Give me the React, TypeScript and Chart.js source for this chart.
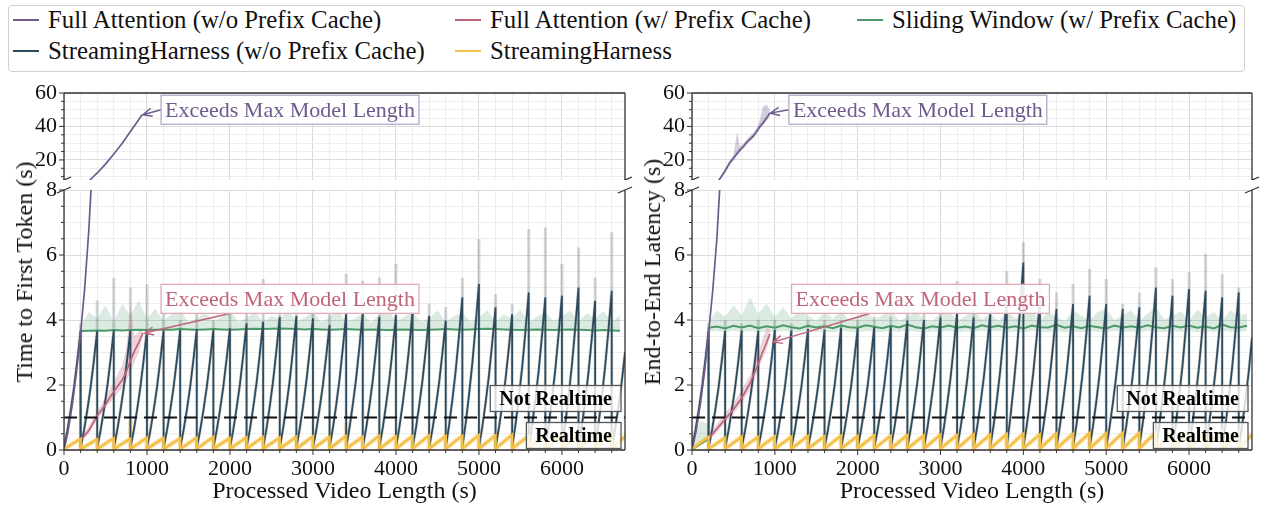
import React, { useEffect, useRef } from 'react';
import { Chart, registerables } from 'chart.js';

Chart.register(...registerables);

const FONT = '"Liberation Serif", "DejaVu Serif", "Noto Serif", serif';

// ---------- axes ----------
const X_MAX = 6760;
const X_TICK_LABELS = [0, 1000, 2000, 3000, 4000, 5000, 6000];
const X_MINOR_STEP = 200;
const Y_LOW_MIN = 0;
const Y_LOW_MAX = 8;
const Y_LOW_TICK_LABELS = [0, 2, 4, 6, 8];
const Y_LOW_MINOR_STEP = 0.5;
const Y_HIGH_MIN = 8;
const Y_HIGH_MAX = 60;
const Y_HIGH_TICK_LABELS = [20, 40, 60];
const Y_HIGH_MINOR_STEP = 5;
const REALTIME_THRESHOLD = 1;

const X_TITLE = 'Processed Video Length (s)';
const Y_TITLE_LEFT = 'Time to First Token (s)';
const Y_TITLE_RIGHT = 'End-to-End Latency (s)';
const ANNOT_TEXT = 'Exceeds Max Model Length';
const NOT_RT_TEXT = 'Not Realtime';
const RT_TEXT = 'Realtime';

const LEGEND_LABELS = [
  'Full Attention (w/o Prefix Cache)',
  'Full Attention (w/ Prefix Cache)',
  'Sliding Window (w/ Prefix Cache)',
  'StreamingHarness (w/o Prefix Cache)',
  'StreamingHarness',
];

// ---------- colours ----------
const C_PURPLE = '#6e5a8c';
const C_PINK = '#c0647a';
const C_DARK = '#2f4a5c';
const C_YELLOW = '#f3bf45';
const C_GREEN = '#4c9a6a';

// ---------- series ----------
const CYCLE = 200;
const SAW_PHASE = [0, 0.2, 0.4, 0.6, 0.8, 1];
const SAW_SHAPE = [0.02, 0.16, 0.33, 0.52, 0.75, 1];
const YEL_PHASE = [0, 0.5, 1];
const YEL_SHAPE = [0.08, 0.55, 1];

const SHNC_L_PEAKS = [3.67, 3.67, 3.68, 3.68, 3.7, 3.68, 3.7, 3.72, 3.7, 3.75, 3.9, 3.95, 4.1, 4.12, 4.05, 3.85, 4.18, 4.23, 4.1, 4.15, 4.25, 4.13, 3.98, 4.7, 5.11, 4.39, 4.18, 4.85, 4.7, 4.75, 5.0, 4.59, 4.9, 4.0];
const SHNC_L_SPIKES = [3.9, 4.6, 5.3, 5.0, 5.1, 4.3, 4.0, 4.2, 4.0, 4.4, 4.3, 5.26, 4.5, 4.6, 4.3, 4.2, 5.42, 5.21, 5.31, 5.72, 4.8, 4.5, 4.4, 5.3, 6.49, 4.8, 4.5, 6.8, 6.85, 5.72, 6.23, 5.31, 6.7, 4.0];
const SHNC_R_PEAKS = [3.67, 3.67, 3.68, 3.67, 3.7, 3.68, 3.72, 3.7, 3.77, 3.75, 3.78, 3.8, 3.98, 4.0, 4.08, 4.23, 4.08, 4.18, 4.65, 5.77, 4.59, 4.34, 4.49, 4.75, 4.49, 4.34, 4.39, 5.0, 4.75, 4.95, 4.9, 4.7, 4.85, 4.6];
const SHNC_R_SPIKES = [3.9, 4.0, 3.9, 4.0, 4.0, 3.9, 4.0, 4.0, 4.0, 4.0, 4.1, 4.1, 4.3, 4.3, 4.4, 5.2, 4.6, 5.0, 5.5, 6.39, 5.26, 4.85, 5.11, 5.57, 5.26, 4.49, 4.85, 5.62, 5.26, 5.47, 6.03, 5.41, 5.0, 4.6];

const SH_L_PEAKS = [0.34, 0.33, 0.36, 0.35, 0.38, 0.37, 0.36, 0.38, 0.4, 0.37, 0.39, 0.4, 0.38, 0.41, 0.42, 0.4, 0.43, 0.41, 0.44, 0.42, 0.43, 0.45, 0.43, 0.44, 0.46, 0.45, 0.47, 0.44, 0.48, 0.46, 0.47, 0.49, 0.48, 0.5];
const SH_L_SPIKES = [0.38, 0.37, 0.4, 0.9, 0.42, 0.41, 0.4, 0.42, 0.44, 0.41, 0.43, 0.44, 0.42, 0.45, 0.46, 0.44, 0.85, 0.45, 0.48, 0.46, 0.47, 0.49, 0.47, 0.48, 0.5, 0.49, 0.51, 0.48, 0.52, 0.5, 0.51, 0.53, 0.52, 0.54];
const SH_R_PEAKS = [0.4, 0.38, 0.41, 0.4, 0.42, 0.41, 0.43, 0.42, 0.44, 0.43, 0.45, 0.44, 0.46, 0.45, 0.47, 0.46, 0.48, 0.47, 0.49, 0.5, 0.48, 0.51, 0.5, 0.52, 0.51, 0.53, 0.52, 0.54, 0.53, 0.55, 0.54, 0.56, 0.55, 0.57];
const SH_R_SPIKES = [0.45, 0.43, 0.46, 0.45, 0.47, 0.46, 0.48, 0.47, 0.49, 0.48, 0.5, 0.49, 0.51, 0.5, 0.52, 0.51, 0.53, 0.52, 0.54, 0.55, 0.53, 0.56, 0.55, 0.57, 0.56, 0.58, 0.57, 0.59, 0.58, 0.6, 0.59, 0.61, 0.6, 0.62];

const GREEN_START = 200;
const GREEN_STEP = 100;
const GREEN_L_PRE_T = [200];
const GREEN_L_PRE = [0.3];
const GREEN_L_PRE_HI = [0.3];
const GREEN_L = [
  3.66, 3.67, 3.68, 3.67, 3.69, 3.68, 3.69, 3.7, 3.69, 3.7,
  3.71, 3.7, 3.72, 3.71, 3.7, 3.71, 3.72, 3.71, 3.7, 3.71,
  3.72, 3.73, 3.72, 3.73, 3.74, 3.73, 3.72, 3.71, 3.72, 3.71,
  3.7, 3.71, 3.72, 3.71, 3.7, 3.71, 3.7, 3.69, 3.7, 3.71,
  3.7, 3.69, 3.7, 3.71, 3.72, 3.71, 3.7, 3.71, 3.72, 3.73,
  3.72, 3.71, 3.7, 3.69, 3.7, 3.71, 3.7, 3.69, 3.7, 3.71,
  3.7, 3.69, 3.68, 3.69, 3.68, 3.67,
];
const GREEN_L_HI = [
  3.8, 4.25, 4.05, 4.45, 3.95, 4.5, 4.15, 4.6, 4.05, 4.35,
  3.98, 4.2, 4.32, 3.92, 4.05, 4.22, 3.95, 4.1, 4.3, 3.95,
  4.05, 4.28, 3.92, 4.12, 4.02, 4.35, 3.95, 4.08, 4.25, 3.93,
  4.1, 4.3, 3.95, 4.05, 4.2, 3.92, 4.15, 4.32, 3.97, 4.1,
  4.25, 3.95, 4.05, 4.3, 3.93, 4.12, 4.22, 3.95, 4.08, 4.3,
  3.95, 4.18, 4.05, 4.32, 3.92, 4.1, 4.25, 3.96, 4.12, 4.3,
  3.95, 4.2, 4.05, 4.28, 3.94, 4.15,
];
const GREEN_R_PRE_T = [0, 100, 200];
const GREEN_R_PRE = [0.02, 0.18, 0.35];
const GREEN_R_PRE_HI = [0.3, 0.9, 0.8];
const GREEN_R = [
  3.76, 3.8, 3.74, 3.82, 3.77, 3.83, 3.75, 3.81, 3.76, 3.84,
  3.78, 3.74, 3.82, 3.77, 3.81, 3.75, 3.83, 3.78, 3.76, 3.84,
  3.79, 3.75, 3.82, 3.77, 3.86, 3.78, 3.74, 3.81, 3.77, 3.83,
  3.76, 3.8, 3.75, 3.84, 3.78, 3.82, 3.76, 3.81, 3.74, 3.83,
  3.78, 3.77, 3.85, 3.76, 3.81, 3.75, 3.82, 3.78, 3.74, 3.83,
  3.77, 3.81, 3.76, 3.84, 3.78, 3.75, 3.82, 3.77, 3.83, 3.76,
  3.8, 3.74, 3.86, 3.78, 3.77, 3.82,
];
const GREEN_R_HI = [
  3.95, 4.3, 4.1, 4.45, 4.15, 4.7, 4.2, 4.5, 4.1, 4.4,
  4.05, 4.3, 4.15, 3.98, 4.25, 4.05, 4.3, 3.98, 4.12, 4.28,
  4.0, 4.15, 4.3, 3.98, 4.1, 4.25, 4.02, 3.97, 4.22, 4.3,
  3.98, 4.12, 4.3, 4.02, 4.2, 3.97, 4.28, 4.05, 4.15, 4.3,
  3.98, 4.25, 4.1, 3.97, 4.3, 4.12, 4.0, 4.25, 4.35, 4.0,
  4.15, 4.3, 3.98, 4.2, 4.38, 4.02, 4.15, 4.28, 3.98, 4.32,
  4.1, 4.25, 3.98, 4.3, 4.15, 4.2,
];
const GREEN_R_LO = [
  3.64, 3.66, 3.62, 3.67, 3.63, 3.66, 3.62, 3.65, 3.63, 3.67,
  3.64, 3.62, 3.66, 3.63, 3.65, 3.62, 3.67, 3.64, 3.62, 3.66,
  3.65, 3.62, 3.66, 3.63, 3.68, 3.64, 3.62, 3.65, 3.63, 3.66,
  3.62, 3.65, 3.63, 3.67, 3.64, 3.66, 3.62, 3.65, 3.62, 3.66,
  3.64, 3.63, 3.67, 3.62, 3.65, 3.62, 3.66, 3.64, 3.62, 3.66,
  3.63, 3.65, 3.62, 3.67, 3.64, 3.62, 3.66, 3.63, 3.66, 3.62,
  3.65, 3.62, 3.68, 3.64, 3.63, 3.66,
];

const PINK_L_T = [200, 250, 300, 400, 500, 600, 700, 750, 800, 850, 900, 950];
const PINK_L = [0.3, 0.45, 0.6, 1.05, 1.4, 1.8, 2.15, 2.4, 2.75, 3.05, 3.3, 3.6];
const PINK_L_HI = [0.35, 0.55, 0.75, 1.2, 1.6, 2.1, 2.6, 3.1, 4.45, 3.5, 3.65, 3.75];
const PINK_L_LO = [0.28, 0.4, 0.5, 0.95, 1.3, 1.6, 1.9, 2.1, 2.4, 2.7, 3.0, 3.5];
const PINK_R_T = [200, 300, 400, 500, 600, 700, 750, 800, 850, 900, 940];
const PINK_R = [0.35, 0.65, 0.95, 1.25, 1.6, 2.05, 2.35, 2.65, 3.0, 3.3, 3.57];
const PINK_R_HI = [0.45, 0.8, 1.15, 1.45, 1.85, 2.3, 2.65, 3.0, 3.4, 3.75, 3.7];
const PINK_R_LO = [0.3, 0.55, 0.85, 1.1, 1.45, 1.85, 2.15, 2.45, 2.8, 3.1, 3.45];

const PURPLE_LB_T = [0, 50, 100, 150, 200, 250, 300, 340];
const PURPLE_LB = [0, 0.6, 1.4, 2.4, 3.6, 5.0, 6.8, 8.7];
const PURPLE_LT_T = [300, 350, 400, 500, 600, 700, 800, 900, 941];
const PURPLE_LT = [7.2, 9.8, 12.2, 17.5, 23.5, 29.8, 37.0, 44.0, 47.0];
const PURPLE_RB_T = [0, 50, 100, 150, 200, 250, 300, 345];
const PURPLE_RB = [0, 0.6, 1.4, 2.4, 3.6, 4.9, 6.5, 8.5];
const PURPLE_RT_T = [320, 360, 400, 458, 500, 546, 578, 620, 660, 700, 735, 780, 820, 855, 900, 940];
const PURPLE_RT = [7.5, 10.5, 13.5, 18.5, 21, 24, 26, 28, 30.5, 32.5, 34, 37, 40, 42, 45, 48];
const PURPLE_RT_HI = [8, 11.5, 15, 20, 23, 36.9, 28, 30, 32, 34.5, 36, 39, 44, 52, 53, 50];
const PURPLE_RT_LO = [7, 9.5, 12.5, 17, 19.5, 22.5, 24.5, 26.5, 29, 31, 32.5, 35.5, 38.5, 40.5, 43.5, 46];

const ANNOT_L_TOP = { textX: 1218, textY: 50, toX: 950, toY: 47 };
const ANNOT_R_TOP = { textX: 1218, textY: 50, toX: 945, toY: 48 };
const ANNOT_L_BOT = { textX: 1218, textY: 4.65, fromX: 2000, fromY: 4.2, toX: 970, toY: 3.6 };
const ANNOT_R_BOT = { textX: 1250, textY: 4.65, fromX: 2145, fromY: 4.2, toX: 980, toY: 3.32 };

// ---------- helpers ----------
type Pt = { x: number; y: number };
const pts = (ts: number[], vs: number[]): Pt[] => ts.map((t, i) => ({ x: t, y: vs[i] }));
const stepPts = (start: number, step: number, vs: number[]): Pt[] =>
  vs.map((v, i) => ({ x: start + i * step, y: v }));
function sawPts(peaks: number[], phase: number[], shape: number[], spikes?: number[]): Pt[] {
  const out: Pt[] = [];
  peaks.forEach((p, k) => {
    const t0 = k * CYCLE;
    phase.forEach((ph, j) => out.push({ x: t0 + ph * CYCLE, y: p * shape[j] }));
    if (spikes) out.push({ x: t0 + CYCLE, y: spikes[k] });
  });
  return out;
}
function range(min: number, max: number, step: number): number[] {
  const out: number[] = [];
  const start = Math.ceil(min / step - 1e-9) * step;
  for (let v = start; v <= max + 1e-9; v += step) out.push(Math.round(v * 1000) / 1000);
  return out;
}
function line(data: Pt[], color: string, width: number, extra: any = {}) {
  return { data, borderColor: color, backgroundColor: color, borderWidth: width, pointRadius: 0, tension: 0, fill: false, clip: 0, ...extra };
}

function bottomDatasets(p: any) {
  const green = [...pts(p.gPreT, p.gPre), ...stepPts(GREEN_START, GREEN_STEP, p.g)];
  const greenHi = [...pts(p.gPreT, p.gPreHi), ...stepPts(GREEN_START, GREEN_STEP, p.gHi)];
  const greenLo = [...pts(p.gPreT, p.gPre), ...stepPts(GREEN_START, GREEN_STEP, p.gLo)];
  return [
    line(sawPts(p.shPeaks, YEL_PHASE, YEL_SHAPE), C_YELLOW, 2.5),
    line(pts(p.purT, p.pur), C_PURPLE, 1.7),
    line(pts(p.pinkT, p.pink), C_PINK, 1.7),
    line(sawPts(p.shncPeaks, SAW_PHASE, SAW_SHAPE), C_DARK, 1.8),
    line(green, C_GREEN, 2),
    line(sawPts(p.shPeaks, YEL_PHASE, YEL_SHAPE, p.shSpikes), 'rgba(243,191,69,0.35)', 5),
    line(pts(p.pinkT, p.pinkHi), 'rgba(0,0,0,0)', 0, { fill: 7, backgroundColor: 'rgba(192,100,122,0.28)' }),
    line(pts(p.pinkT, p.pinkLo), 'rgba(0,0,0,0)', 0),
    line(greenHi, 'rgba(0,0,0,0)', 0, { fill: 9, backgroundColor: 'rgba(76,154,106,0.2)' }),
    line(greenLo, 'rgba(0,0,0,0)', 0),
    line(sawPts(p.shncPeaks, SAW_PHASE, SAW_SHAPE, p.shncSpikes), 'rgba(70,90,105,0.25)', 3),
  ];
}

const LEFT_DATA = {
  shncPeaks: SHNC_L_PEAKS, shncSpikes: SHNC_L_SPIKES, shPeaks: SH_L_PEAKS, shSpikes: SH_L_SPIKES,
  gPreT: GREEN_L_PRE_T, gPre: GREEN_L_PRE, gPreHi: GREEN_L_PRE_HI, g: GREEN_L, gHi: GREEN_L_HI, gLo: GREEN_L,
  pinkT: PINK_L_T, pink: PINK_L, pinkHi: PINK_L_HI, pinkLo: PINK_L_LO, purT: PURPLE_LB_T, pur: PURPLE_LB,
};
const RIGHT_DATA = {
  shncPeaks: SHNC_R_PEAKS, shncSpikes: SHNC_R_SPIKES, shPeaks: SH_R_PEAKS, shSpikes: SH_R_SPIKES,
  gPreT: GREEN_R_PRE_T, gPre: GREEN_R_PRE, gPreHi: GREEN_R_PRE_HI, g: GREEN_R, gHi: GREEN_R_HI, gLo: GREEN_R_LO,
  pinkT: PINK_R_T, pink: PINK_R, pinkHi: PINK_R_HI, pinkLo: PINK_R_LO, purT: PURPLE_RB_T, pur: PURPLE_RB,
};

type Spec = {
  isTop: boolean;
  datasets: any[];
  yMin: number; yMax: number; yLabels: number[]; yStep: number;
  padTop: number; padRight: number; xHeight: number;
  annot?: any; annotColor: string; annotBorder: string;
  threshold: boolean;
};

function drawAnnotation(ctx: CanvasRenderingContext2D, chart: any, a: any, color: string, border: string) {
  const xs = chart.scales.x, ys = chart.scales.y;
  ctx.save();
  ctx.font = `22px ${FONT}`;
  const tx = xs.getPixelForValue(a.textX);
  const ty = ys.getPixelForValue(a.textY);
  const w = ctx.measureText(ANNOT_TEXT).width;
  const padX = 4, halfH = 14.5;
  const bx = tx - padX, by = ty - halfH, bw = w + 2 * padX, bh = halfH * 2;
  const sx = a.fromX !== undefined ? xs.getPixelForValue(a.fromX) : bx;
  const sy = a.fromY !== undefined ? ys.getPixelForValue(a.fromY) : ty;
  const ex = xs.getPixelForValue(a.toX);
  const ey = ys.getPixelForValue(a.toY);
  ctx.strokeStyle = color;
  ctx.lineWidth = 1.4;
  ctx.beginPath();
  ctx.moveTo(sx, sy);
  ctx.lineTo(ex, ey);
  const ang = Math.atan2(sy - ey, sx - ex);
  const hl = 10;
  ctx.moveTo(ex + hl * Math.cos(ang + 0.42), ey + hl * Math.sin(ang + 0.42));
  ctx.lineTo(ex, ey);
  ctx.lineTo(ex + hl * Math.cos(ang - 0.42), ey + hl * Math.sin(ang - 0.42));
  ctx.stroke();
  ctx.fillStyle = 'rgba(255,255,255,0.88)';
  ctx.fillRect(bx, by, bw, bh);
  ctx.strokeStyle = border;
  ctx.lineWidth = 1.3;
  ctx.strokeRect(bx, by, bw, bh);
  ctx.fillStyle = color;
  ctx.textBaseline = 'middle';
  ctx.textAlign = 'left';
  ctx.fillText(ANNOT_TEXT, tx, ty + 1);
  ctx.restore();
}

function drawBox(ctx: CanvasRenderingContext2D, text: string, right: number, top: number) {
  ctx.save();
  ctx.font = `bold 20px ${FONT}`;
  const w = ctx.measureText(text).width;
  const padX = 9, h = 26;
  const bx = right - w - 2 * padX;
  ctx.fillStyle = 'rgba(255,255,255,0.8)';
  ctx.fillRect(bx, top, w + 2 * padX, h);
  ctx.strokeStyle = '#555';
  ctx.lineWidth = 1.3;
  ctx.strokeRect(bx, top, w + 2 * padX, h);
  ctx.fillStyle = '#000';
  ctx.textBaseline = 'middle';
  ctx.textAlign = 'left';
  ctx.fillText(text, bx + padX, top + h / 2 + 1);
  ctx.restore();
}

function makePlugin(spec: Spec) {
  return {
    id: 'decor',
    afterDatasetsDraw(chart: any) {
      const { ctx, chartArea: a } = chart;
      const ys = chart.scales.y;
      if (spec.threshold) {
        const y = ys.getPixelForValue(REALTIME_THRESHOLD);
        ctx.save();
        ctx.strokeStyle = '#111';
        ctx.lineWidth = 2;
        ctx.setLineDash([13, 7]);
        ctx.beginPath();
        ctx.moveTo(a.left, y);
        ctx.lineTo(a.right, y);
        ctx.stroke();
        ctx.restore();
        drawBox(ctx, NOT_RT_TEXT, a.right - 4, y - 32);
        drawBox(ctx, RT_TEXT, a.right - 4, y + 5);
      }
      if (spec.annot) drawAnnotation(ctx, chart, spec.annot, spec.annotColor, spec.annotBorder);
    },
    afterDraw(chart: any) {
      const { ctx, chartArea: a } = chart;
      const xs = chart.scales.x, ys = chart.scales.y;
      ctx.save();
      ctx.strokeStyle = '#333';
      ctx.lineWidth = 1.3;
      ctx.beginPath();
      ctx.moveTo(a.left, a.top); ctx.lineTo(a.left, a.bottom);
      ctx.moveTo(a.right, a.top); ctx.lineTo(a.right, a.bottom);
      if (spec.isTop) { ctx.moveTo(a.left, a.top); ctx.lineTo(a.right, a.top); }
      else { ctx.moveTo(a.left, a.bottom); ctx.lineTo(a.right, a.bottom); }
      ctx.stroke();
      ctx.lineWidth = 1;
      ctx.beginPath();
      range(spec.yMin, spec.yMax, spec.yStep).forEach((v) => {
        const y = ys.getPixelForValue(v);
        const len = spec.yLabels.includes(v) ? 5 : 3;
        ctx.moveTo(a.left - len, y); ctx.lineTo(a.left, y);
      });
      if (!spec.isTop) {
        range(0, X_MAX, X_MINOR_STEP).forEach((v) => {
          const x = xs.getPixelForValue(v);
          const len = X_TICK_LABELS.includes(v) ? 5 : 3;
          ctx.moveTo(x, a.bottom); ctx.lineTo(x, a.bottom + len);
        });
      }
      ctx.stroke();
      const by = spec.isTop ? a.bottom : a.top;
      ctx.lineWidth = 1.3;
      ctx.beginPath();
      [a.left, a.right].forEach((x) => {
        ctx.moveTo(x - 7, by + 3); ctx.lineTo(x + 7, by - 3);
      });
      ctx.stroke();
      ctx.restore();
    },
  };
}

function buildConfig(spec: Spec): any {
  const xVals = range(0, X_MAX, X_MINOR_STEP);
  const yVals = range(spec.yMin, spec.yMax, spec.yStep);
  return {
    type: 'line',
    data: { datasets: spec.datasets },
    options: {
      responsive: false,
      animation: false,
      events: [],
      layout: { padding: { top: spec.padTop, right: spec.padRight, bottom: 0, left: 0 } },
      plugins: { legend: { display: false }, tooltip: { enabled: false } },
      scales: {
        x: {
          type: 'linear',
          min: 0,
          max: X_MAX,
          afterBuildTicks: (s: any) => { s.ticks = xVals.map((v) => ({ value: v })); },
          afterFit: (s: any) => { s.height = spec.xHeight; s.paddingLeft = 0; s.paddingRight = 0; },
          border: { display: false },
          grid: {
            drawTicks: false,
            lineWidth: 1,
            color: (c: any) => (c.tick && X_TICK_LABELS.includes(c.tick.value) ? '#d9d9d9' : '#ededed'),
          },
          ticks: {
            display: !spec.isTop,
            autoSkip: false,
            maxRotation: 0,
            padding: 6,
            color: '#111',
            font: { family: FONT, size: 22 },
            callback: (v: number) => (X_TICK_LABELS.includes(v) ? String(v) : ''),
          },
          title: {
            display: !spec.isTop,
            text: X_TITLE,
            color: '#111',
            font: { family: FONT, size: 24 },
            padding: { top: 0, bottom: 0 },
          },
        },
        y: {
          type: 'linear',
          min: spec.yMin,
          max: spec.yMax,
          afterBuildTicks: (s: any) => { s.ticks = yVals.map((v) => ({ value: v })); },
          afterFit: (s: any) => { s.width = 64; s.paddingTop = 0; s.paddingBottom = 0; },
          border: { display: false },
          grid: {
            drawTicks: false,
            lineWidth: 1,
            color: (c: any) => (c.tick && spec.yLabels.includes(c.tick.value) ? '#dcdcdc' : '#ededed'),
          },
          ticks: {
            autoSkip: false,
            padding: 7,
            color: '#111',
            font: { family: FONT, size: 22 },
            callback: (v: number) => (spec.yLabels.includes(v) ? String(v) : ''),
          },
        },
      },
    },
    plugins: [makePlugin(spec)],
  };
}

function ChartCanvas({ spec, left, top, width, height }: { spec: Spec; left: number; top: number; width: number; height: number }) {
  const ref = useRef<HTMLCanvasElement>(null);
  useEffect(() => {
    const chart = new Chart(ref.current as HTMLCanvasElement, buildConfig(spec));
    return () => chart.destroy();
  }, []);
  return (
    <canvas
      ref={ref}
      width={width}
      height={height}
      style={{ position: 'absolute', left, top, width, height }}
    />
  );
}

const SPEC_L_TOP: Spec = {
  isTop: true,
  datasets: [line(pts(PURPLE_LT_T, PURPLE_LT), C_PURPLE, 1.7)],
  yMin: Y_HIGH_MIN, yMax: Y_HIGH_MAX, yLabels: Y_HIGH_TICK_LABELS, yStep: Y_HIGH_MINOR_STEP,
  padTop: 15, padRight: 15, xHeight: 0,
  annot: ANNOT_L_TOP, annotColor: C_PURPLE, annotBorder: '#b5a9c9', threshold: false,
};
const SPEC_L_BOT: Spec = {
  isTop: false,
  datasets: bottomDatasets(LEFT_DATA),
  yMin: Y_LOW_MIN, yMax: Y_LOW_MAX, yLabels: Y_LOW_TICK_LABELS, yStep: Y_LOW_MINOR_STEP,
  padTop: 14, padRight: 15, xHeight: 56,
  annot: ANNOT_L_BOT, annotColor: C_PINK, annotBorder: '#e2aab6', threshold: true,
};
const SPEC_R_TOP: Spec = {
  isTop: true,
  datasets: [
    line(pts(PURPLE_RT_T, PURPLE_RT), C_PURPLE, 1.7),
    line(pts(PURPLE_RT_T, PURPLE_RT_HI), 'rgba(0,0,0,0)', 0, { fill: 2, backgroundColor: 'rgba(110,90,140,0.3)' }),
    line(pts(PURPLE_RT_T, PURPLE_RT_LO), 'rgba(0,0,0,0)', 0),
  ],
  yMin: Y_HIGH_MIN, yMax: Y_HIGH_MAX, yLabels: Y_HIGH_TICK_LABELS, yStep: Y_HIGH_MINOR_STEP,
  padTop: 15, padRight: 10, xHeight: 0,
  annot: ANNOT_R_TOP, annotColor: C_PURPLE, annotBorder: '#b5a9c9', threshold: false,
};
const SPEC_R_BOT: Spec = {
  isTop: false,
  datasets: bottomDatasets(RIGHT_DATA),
  yMin: Y_LOW_MIN, yMax: Y_LOW_MAX, yLabels: Y_LOW_TICK_LABELS, yStep: Y_LOW_MINOR_STEP,
  padTop: 14, padRight: 10, xHeight: 56,
  annot: ANNOT_R_BOT, annotColor: C_PINK, annotBorder: '#e2aab6', threshold: true,
};

const LEGEND_COLORS = [C_PURPLE, C_PINK, C_GREEN, C_DARK, C_YELLOW];
const LEGEND_MARKER_X = [13, 455, 857];
const LEGEND_TEXT_X = [48, 490, 892];
const LEGEND_ROW_Y = [20, 51];
const LEGEND_FONT_PX = 24.8;

function Legend() {
  return (
    <>
      <div
        style={{
          position: 'absolute', left: 8, top: 5, width: 1237, height: 67,
          border: '1px solid #d0d0d0', borderRadius: 4, boxSizing: 'border-box', background: '#fff',
        }}
      />
      {LEGEND_LABELS.map((lab, i) => {
        const col = i % 3, row = Math.floor(i / 3);
        const y = LEGEND_ROW_Y[row];
        return (
          <React.Fragment key={lab}>
            <div style={{ position: 'absolute', left: LEGEND_MARKER_X[col], top: y - 1, width: 26, height: 2.2, background: LEGEND_COLORS[i] }} />
            <div
              style={{
                position: 'absolute', left: LEGEND_TEXT_X[col], top: y - 14, height: 28, lineHeight: '28px',
                fontSize: LEGEND_FONT_PX, fontFamily: FONT, color: '#111', whiteSpace: 'nowrap',
              }}
            >
              {lab}
            </div>
          </React.Fragment>
        );
      })}
    </>
  );
}

function YTitle({ text, cx, cy }: { text: string; cx: number; cy: number }) {
  return (
    <div
      style={{
        position: 'absolute', left: cx, top: cy, transform: 'translate(-50%, -50%) rotate(-90deg)',
        fontSize: 24, fontFamily: FONT, color: '#111', whiteSpace: 'nowrap', lineHeight: '28px',
      }}
    >
      {text}
    </div>
  );
}

export default function App() {
  return (
    <div style={{ position: 'absolute', left: 0, top: 0, width: 1262, height: 506, background: '#fff', overflow: 'hidden' }}>
      <Legend />
      <ChartCanvas spec={SPEC_L_TOP} left={0} top={78} width={640} height={102} />
      <ChartCanvas spec={SPEC_L_BOT} left={0} top={176} width={640} height={330} />
      <ChartCanvas spec={SPEC_R_TOP} left={628} top={78} width={634} height={102} />
      <ChartCanvas spec={SPEC_R_BOT} left={628} top={176} width={634} height={330} />
      <YTitle text={Y_TITLE_LEFT} cx={24} cy={272} />
      <YTitle text={Y_TITLE_RIGHT} cx={652} cy={272} />
    </div>
  );
}
